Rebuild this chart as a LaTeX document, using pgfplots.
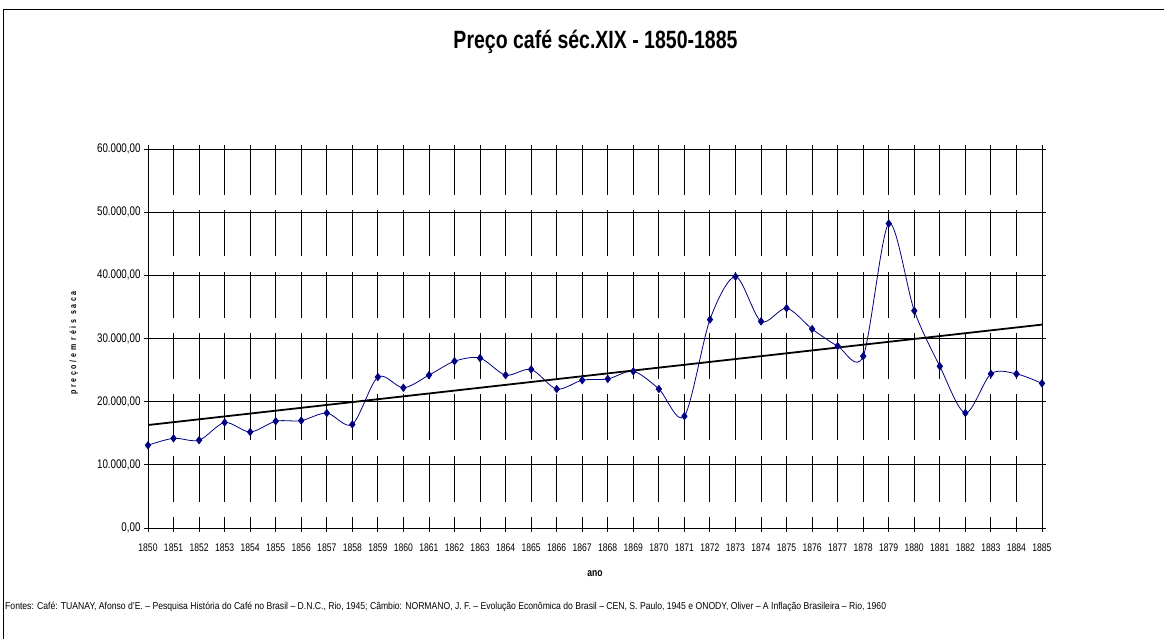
\documentclass[border=0pt]{standalone}
\usepackage{fontspec}
\setmainfont{Liberation Sans}[FakeStretch=0.78]
\usepackage{pgfplots}
\pgfplotsset{compat=1.18}
\definecolor{navyblue}{RGB}{0,0,128}
\pgfplotstableread{
year price
1850 13100
1851 14200
1852 13900
1853 16700
1854 15200
1855 16900
1856 17000
1857 18200
1858 16400
1859 23900
1860 22200
1861 24200
1862 26400
1863 26900
1864 24200
1865 25100
1866 22000
1867 23400
1868 23600
1869 24800
1870 22000
1871 17700
1872 33000
1873 39800
1874 32700
1875 34800
1876 31500
1877 28800
1878 27200
1879 48200
1880 34400
1881 25600
1882 18200
1883 24400
1884 24400
1885 22900
}\pricedata
\begin{document}
\begin{tikzpicture}[x=1pt,y=1pt]
\useasboundingbox (0,0) rectangle (1164,639);
\draw[line width=1pt] (3,0) -- (3,629) -- (1164,629);
\node[anchor=base, inner sep=0pt, font=\fontsize{25}{30}\selectfont\bfseries] at (595.5,590) {Preço café séc.XIX - 1850-1885};
\begin{axis}[
  at={(148pt,111pt)}, anchor=south west,
  scale only axis, width=894pt, height=379pt,
  xmin=1850, xmax=1885, ymin=0, ymax=60000,
  xtick={1850,...,1885},
  ytick={0,10000,...,60000},
  minor x tick num=4,
  tick align=outside,
  major tick length=4pt, minor tick length=3pt,
  tick style={black, line width=0.8pt},
  xmajorgrids, ymajorgrids,
  y grid style={black, line width=0.8pt},
  x grid style={black, line width=0.8pt, dash pattern=on 46pt off 15.33pt, dash phase=35pt},
  axis line style={black, line width=0.8pt},
  /pgf/number format/assume math mode=true,
  scaled y ticks=false,
  xticklabel style={font=\fontsize{11}{13}\selectfont, anchor=base, yshift=-19.7pt, /pgf/number format/1000 sep={}},
  yticklabel style={font=\fontsize{12.5}{14}\selectfont, /pgf/number format/.cd, fixed, fixed zerofill, precision=2, use comma, 1000 sep={.}},
]
\addplot[navyblue, line width=0.8pt, smooth, tension=0.5, mark=diamond*, mark size=3.6pt, mark options={solid, fill=navyblue}] table[x=year, y=price] {\pricedata};
\addplot[black, line width=1.8pt] coordinates {(1850,16300) (1885,32200)};
\end{axis}
\node[anchor=base, inner sep=0pt, font=\fontsize{11}{13}\selectfont\bfseries] at (595,62) {ano};
\node[rotate=90, anchor=base, inner sep=0pt, font=\fontsize{9}{11}\selectfont\bfseries\addfontfeatures{LetterSpace=30}] at (76,296) {preço/em réis saca};
\node[anchor=base west, inner sep=0pt, font=\fontsize{10}{12}\selectfont] at (5,29) {\scalebox{1.105}[1]{Fontes: Café: TUANAY, Afonso d’E. – Pesquisa História do Café no Brasil – D.N.C., Rio, 1945; Câmbio: NORMANO, J. F. – Evolução Econômica do Brasil – CEN, S. Paulo, 1945 e ONODY, Oliver – A Inflação Brasileira – Rio, 1960}};
\end{tikzpicture}
\end{document}
